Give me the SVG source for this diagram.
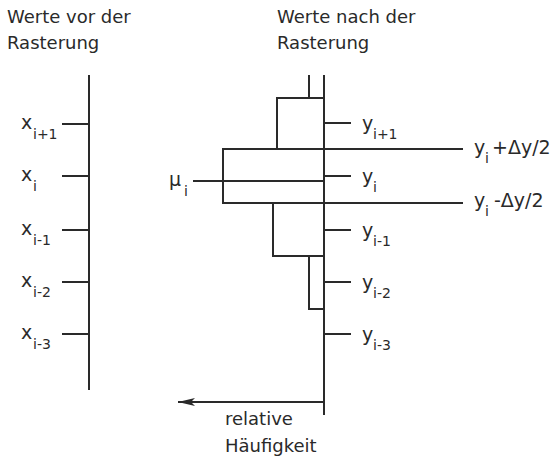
<svg xmlns="http://www.w3.org/2000/svg" width="551" height="457" viewBox="0 0 551 457">
<defs>
<style>
text{font-family:"DejaVu Sans","Liberation Sans",sans-serif;fill:#2a2a2a}
.t{font-size:18px}
.m{font-size:19px}
.s{font-size:14px}
.ln{stroke:#2a2a2a;stroke-width:2;fill:none}
.bar{stroke:#2a2a2a;stroke-width:2;fill:none}
</style>
<marker id="ah" markerWidth="18" markerHeight="10" refX="17" refY="5" orient="auto" markerUnits="userSpaceOnUse">
<path d="M17,5 L0,1 L4,5 L0,9 Z" fill="#2a2a2a"/>
</marker>
</defs>
<rect width="551" height="457" fill="#fff"/>
<g id="title-left">
<text class="t" x="7" y="23">Werte vor der</text>
<text class="t" x="7" y="49">Rasterung</text>
</g>
<g id="title-right">
<text class="t" x="277" y="23">Werte nach der</text>
<text class="t" x="277" y="49">Rasterung</text>
</g>
<g id="left-axis">
<line class="ln" x1="89" y1="75" x2="89" y2="390"/>
<line class="ln" x1="62" y1="124" x2="89" y2="124"/>
<line class="ln" x1="62" y1="176" x2="89" y2="176"/>
<line class="ln" x1="62" y1="230" x2="89" y2="230"/>
<line class="ln" x1="62" y1="282" x2="89" y2="282"/>
<line class="ln" x1="62" y1="334" x2="89" y2="334"/>
<text class="m" x="21" y="129">x</text><text class="s" x="33" y="139">i+1</text>
<text class="m" x="21" y="181">x</text><text class="s" x="33" y="191">i</text>
<text class="m" x="21" y="235">x</text><text class="s" x="33" y="245">i-1</text>
<text class="m" x="21" y="287">x</text><text class="s" x="33" y="297">i-2</text>
<text class="m" x="21" y="339">x</text><text class="s" x="33" y="349">i-3</text>
</g>
<g id="histogram">
<rect class="bar" x="277" y="98" width="47" height="51"/>
<rect class="bar" x="223" y="149" width="101" height="54"/>
<rect class="bar" x="273" y="203" width="51" height="53"/>
<rect class="bar" x="309" y="256" width="15" height="53"/>
<line class="ln" x1="309" y1="75" x2="309" y2="98"/>
</g>
<g id="right-axis">
<line class="ln" x1="324" y1="75" x2="324" y2="415"/>
<line class="ln" x1="324" y1="123" x2="351" y2="123"/>
<line class="ln" x1="324" y1="176" x2="351" y2="176"/>
<line class="ln" x1="324" y1="230" x2="351" y2="230"/>
<line class="ln" x1="324" y1="282" x2="351" y2="282"/>
<line class="ln" x1="324" y1="334" x2="351" y2="334"/>
<text class="m" x="362" y="130">y</text><text class="s" x="373" y="139">i+1</text>
<text class="m" x="362" y="183">y</text><text class="s" x="373" y="192">i</text>
<text class="m" x="362" y="237">y</text><text class="s" x="373" y="246">i-1</text>
<text class="m" x="362" y="289">y</text><text class="s" x="373" y="298">i-2</text>
<text class="m" x="362" y="341">y</text><text class="s" x="373" y="350">i-3</text>
</g>
<g id="bin-edges">
<line class="ln" x1="324" y1="149" x2="463" y2="149"/>
<line class="ln" x1="324" y1="203" x2="463" y2="203"/>
<text class="m" x="474" y="154">y</text><text class="s" x="485" y="163">i</text><text class="m" x="492" y="154">+Δy/2</text>
<text class="m" x="474" y="207">y</text><text class="s" x="485" y="216">i</text><text class="m" x="494" y="207">-Δy/2</text>
</g>
<g id="mean">
<line class="ln" x1="193" y1="181" x2="324" y2="181"/>
<text class="m" x="169" y="186">μ</text><text class="s" x="184" y="196">i</text>
</g>
<g id="connectors">
<line class="ln" x1="324" y1="402" x2="178" y2="402" marker-end="url(#ah)"/>
</g>
<g id="axis-label">
<text class="t" x="225" y="425">relative</text>
<text class="t" x="225" y="452">Häufigkeit</text>
</g>
</svg>
